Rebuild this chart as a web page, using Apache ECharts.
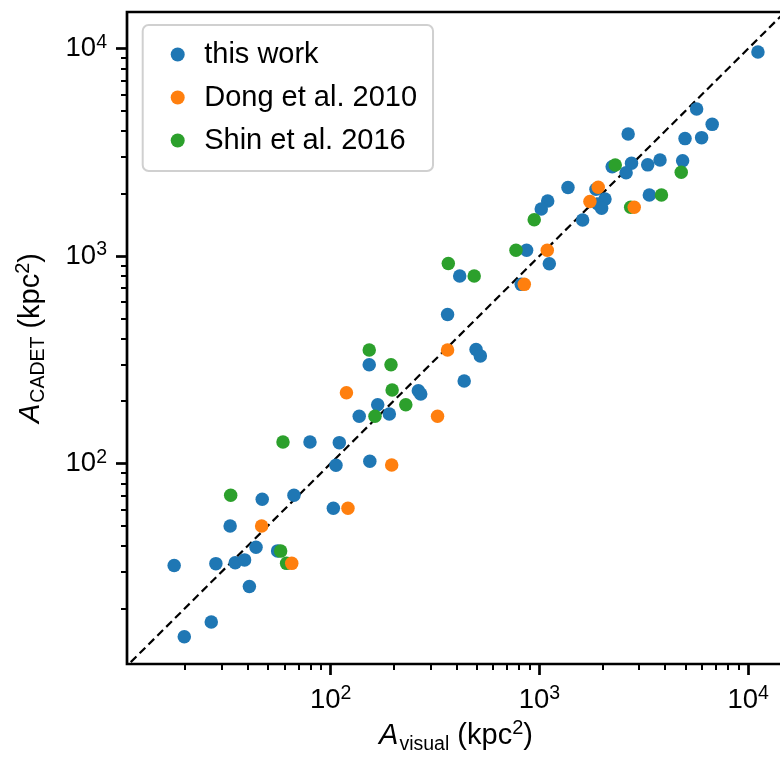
<!DOCTYPE html>
<html><head><meta charset="utf-8">
<script src="https://cdn.jsdelivr.net/npm/echarts@6/dist/echarts.min.js"></script>
<style>html,body{margin:0;padding:0;background:#fff;overflow:hidden}#c{width:792px;height:760px}</style>
</head><body><div id="c"></div>
<script>
// ---- data (A_visual, A_CADET) in kpc^2 ----
const thisWork = [
  [11130,9620],[5660,5110],[6720,4310],[2660,3870],[4980,3680],[5980,3720],
  [2230,2690],[2760,2800],[2600,2520],[3300,2750],[3780,2900],[4850,2880],
  [1370,2140],[1865,2100],[2060,1880],[1905,1780],[1985,1700],[3360,1970],
  [1095,1840],[1020,1685],[1610,1490],[868,1065],[1115,918],[415,801],
  [818,730],[363,523],[497,354],[521,330],[436,250],[263,224],[270,216],
  [153,299],[168,192],[137,169],[191,173],[79.6,127],[110,126],[106,98],
  [154,102.5],[47,67.2],[66.7,70.3],[103,60.8],[33,50],[43.9,39.5],
  [55.7,37.9],[17.8,32.2],[28.2,32.9],[34.9,33.2],[38.7,34.3],[40.8,25.5],
  [26.8,17.2],[19.9,14.6]
];
const dong2010 = [
  [1912,2144],[1745,1831],[2844,1719],[1090,1065],[846,730],[363,352],
  [119,219],[325,169],[196,98.3],[121,60.8],[46.7,50],[65.1,33]
];
const shin2016 = [
  [2307,2746],[4777,2534],[3840,1968],[2734,1719],[944,1496],[772,1065],
  [366,920],[487,801],[153,352],[194.5,299],[197,226],[229,192],[163,169],
  [59.1,127],[33.2,70.3],[57.6,37.8],[61.5,33]
];
const seriesNames = ['this work', 'Dong et al. 2010', 'Shin et al. 2016'];
const seriesColors = ['#1f77b4', '#ff7f0e', '#2ca02c'];
const majorTicks = [100, 1000, 10000];
const minorTicks = [20,30,40,50,60,70,80,90,200,300,400,500,600,700,800,900,
                    2000,3000,4000,5000,6000,7000,8000,9000];
const identityLine = [10, 20000];
const xRange = [10.58, 15000];
const yRange = [10.8, 15000];
const xTitle = ['A', 'visual', ' (kpc', '2', ')'];
const yTitle = ['A', 'CADET', ' (kpc', '2', ')'];

// ---- chart ----
const FONT = 'Liberation Sans, Arial, Helvetica, sans-serif';
const chart = echarts.init(document.getElementById('c'), null, {renderer: 'canvas'});
const gridRect = {left: 127, top: 12, width: 658, height: 652};

const tickRich = {
  b: {fontSize: 27.5, fontFamily: FONT, color: '#000', verticalAlign: 'bottom', lineHeight: 28},
  s: {fontSize: 19.5, fontFamily: FONT, color: '#000', verticalAlign: 'bottom', lineHeight: 28, padding: [0, 0, 10, 0]}
};
const tickFmt = v => '{b|10}{s|' + Math.round(Math.log10(v)) + '}';
const titleRich = {
  i: {fontSize: 29, fontFamily: FONT, fontStyle: 'italic', color: '#000', verticalAlign: 'bottom', lineHeight: 32, padding: [0, 0, 4, 0]},
  sub: {fontSize: 19.5, fontFamily: FONT, color: '#000', verticalAlign: 'bottom', lineHeight: 32, padding: [0, 0, 0, 1]},
  n: {fontSize: 29, fontFamily: FONT, color: '#000', verticalAlign: 'bottom', lineHeight: 32, padding: [0, 0, 4, 0]},
  sup: {fontSize: 20, fontFamily: FONT, color: '#000', verticalAlign: 'bottom', lineHeight: 32, padding: [0, 0, 16, 0]}
};
const titleFmt = t => '{i|' + t[0] + '}{sub|' + t[1] + '}{n|' + t[2] + '}{sup|' + t[3] + '}{n|' + t[4] + '}';

function majorAxis(range, extra) {
  return Object.assign({
    type: 'log', logBase: 10, gridIndex: 0, min: range[0], max: range[1],
    axisLine: {show: false},
    splitLine: {show: false},
    minorTick: {show: false},
    axisTick: {show: true, customValues: majorTicks, length: 11, lineStyle: {color: '#000', width: 2.7}},
    nameLocation: 'middle',
    nameTextStyle: {rich: titleRich, color: '#000'}
  }, extra);
}
function minorAxis(range, extra) {
  return Object.assign({
    type: 'log', logBase: 10, gridIndex: 1, min: range[0], max: range[1],
    axisLine: {show: false},
    splitLine: {show: false},
    minorTick: {show: false},
    axisTick: {show: true, customValues: minorTicks, length: 6, lineStyle: {color: '#000', width: 2}},
    axisLabel: {show: false}
  }, extra);
}

const option = {
  animation: false,
  backgroundColor: '#fff',
  grid: [
    Object.assign({show: true, borderColor: '#000', borderWidth: 2.7, backgroundColor: 'transparent', z: 5}, gridRect),
    Object.assign({show: false}, gridRect)
  ],
  xAxis: [
    majorAxis(xRange, {position: 'bottom', name: titleFmt(xTitle), nameGap: 52,
      axisLabel: {show: true, customValues: majorTicks, formatter: tickFmt, rich: tickRich, margin: 22}}),
    minorAxis(xRange, {position: 'bottom'})
  ],
  yAxis: [
    majorAxis(yRange, {position: 'left', name: titleFmt(yTitle), nameGap: 78,
      axisLabel: {show: true, customValues: majorTicks, formatter: tickFmt, rich: tickRich, margin: 20}}),
    minorAxis(yRange, {position: 'left'})
  ],
  legend: {
    data: seriesNames,
    orient: 'vertical',
    left: 142.7, top: 25,
    icon: 'circle',
    itemWidth: 43, itemHeight: 14,
    itemGap: 14,
    padding: [15, 16, 16, 28],
    backgroundColor: 'rgba(255,255,255,0.8)',
    borderColor: '#d0d0d0', borderWidth: 2, borderRadius: 6,
    selectedMode: false,
    textStyle: {fontSize: 29, fontFamily: FONT, color: '#000'}
  },
  series: [
    {
      type: 'line', xAxisIndex: 0, yAxisIndex: 0, silent: true, z: 1,
      data: identityLine.map(v => [v, v]), symbol: 'none', clip: true,
      lineStyle: {color: '#000', width: 2.2, type: [8, 4.5]}
    },
    {
      name: seriesNames[0], type: 'scatter', xAxisIndex: 0, yAxisIndex: 0, z: 2,
      data: thisWork, symbol: 'circle', symbolSize: 13.5,
      itemStyle: {color: seriesColors[0], opacity: 1}
    },
    {
      name: seriesNames[2], type: 'scatter', xAxisIndex: 0, yAxisIndex: 0, z: 3,
      data: shin2016, symbol: 'circle', symbolSize: 13.5,
      itemStyle: {color: seriesColors[2], opacity: 1}
    },
    {
      name: seriesNames[1], type: 'scatter', xAxisIndex: 0, yAxisIndex: 0, z: 4,
      data: dong2010, symbol: 'circle', symbolSize: 13.5,
      itemStyle: {color: seriesColors[1], opacity: 1}
    }
  ]
};
chart.setOption(option);
</script></body></html>
